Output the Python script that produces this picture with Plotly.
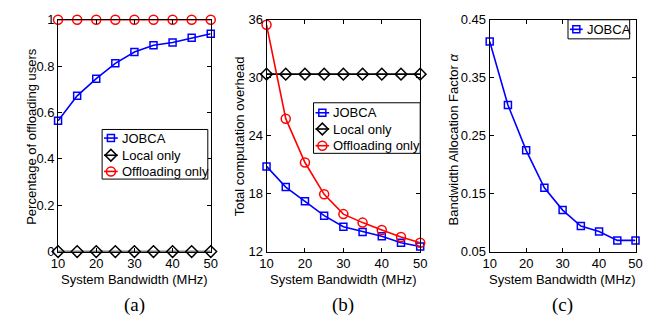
import plotly.graph_objects as go

bandwidth = [10, 15, 20, 25, 30, 35, 40, 45, 50]

# (a) Percentage of offloading users
pct_jobca = [0.564, 0.672, 0.746, 0.812, 0.861, 0.89, 0.902, 0.922, 0.94]
pct_local = [0, 0, 0, 0, 0, 0, 0, 0, 0]
pct_offload = [1, 1, 1, 1, 1, 1, 1, 1, 1]

# (b) Total computation overhead
ovh_jobca = [20.82, 18.68, 17.2, 15.72, 14.57, 14.04, 13.58, 12.92, 12.52]
ovh_local = [30.37] * 9
ovh_offload = [35.48, 25.76, 21.22, 17.93, 15.88, 15.0, 14.24, 13.51, 12.92]

# (c) Bandwidth allocation factor
alpha_jobca = [0.4125, 0.303, 0.2247, 0.160, 0.1216, 0.094, 0.0847, 0.0693, 0.0693]

series_names = ["JOBCA", "Local only", "Offloading only"]
x_title = "System Bandwidth (MHz)"
y_titles = ["Percentage of offloading users", "Total computation overhead",
            "Bandwidth Allocation Factor <i>α</i>"]
panel_labels = ["(a)", "(b)", "(c)"]

W, H = 659, 326
OFF = 8  # the page's default body margin shifts the figure by this much
FONT = "Liberation Sans, Arial, sans-serif"
SERIF = "Liberation Serif, Times New Roman, serif"
BLUE, BLACK, RED = "#0000ff", "#000000", "#ff0000"
STYLES = [(BLUE, "square-open", 7), (BLACK, "diamond-open", 9), (RED, "circle-open", 9)]

# panel extents in screen pixels (left, right)
PANELS = [(52, 208), (265, 422), (493, 642)]
TOP, BOTTOM = 13, 256


def px_x(p):
    return (p - OFF) / W


def px_y(p):
    return 1 - (p - OFF) / H


fig = go.Figure()


def add(x, y, style, axis):
    color, symbol, msize = style
    fig.add_trace(go.Scatter(
        x=x, y=y, mode="lines+markers", showlegend=False,
        line=dict(color=color, width=1.6),
        marker=dict(symbol=symbol, size=msize, color=color,
                    line=dict(color=color, width=1.5)),
        xaxis="x" + axis, yaxis="y" + axis, cliponaxis=False))


add(bandwidth, pct_jobca, STYLES[0], "")
add(bandwidth, pct_local, STYLES[1], "")
add(bandwidth, pct_offload, STYLES[2], "")

add(bandwidth, ovh_jobca, STYLES[0], "2")
add(bandwidth, ovh_local, STYLES[1], "2")
add(bandwidth, ovh_offload, STYLES[2], "2")

add(bandwidth, alpha_jobca, STYLES[0], "3")

# ---- hand-built legends (MATLAB style, short sample lines) on a screen-pixel overlay axis
legends = [
    dict(box=(97, 205, 128, 180), rows=[137, 155, 172], lx=(99, 113), tx=115, n=3),
    dict(box=(313, 422, 100, 153), rows=[110.5, 127.5, 145], lx=(315, 329), tx=331, n=3),
    dict(box=(573, 636, 13, 33), rows=[23], lx=(575, 588), tx=590, n=1),
]
shapes = []
for lg in legends:
    x0, x1, y0, y1 = lg["box"]
    shapes.append(dict(type="rect", xref="x4", yref="y4", x0=x0, x1=x1, y0=y0, y1=y1,
                       line=dict(color="black", width=1), fillcolor="white", layer="below"))
    for i in range(lg["n"]):
        color, symbol, msize = STYLES[i]
        ry = lg["rows"][i]
        shapes.append(dict(type="line", xref="x4", yref="y4", x0=lg["lx"][0], x1=lg["lx"][1],
                           y0=ry, y1=ry, line=dict(color=color, width=1.6), layer="below"))
        fig.add_trace(go.Scatter(
            x=[(lg["lx"][0] + lg["lx"][1]) / 2], y=[ry], mode="markers", showlegend=False,
            marker=dict(symbol=symbol, size=msize, color=color, line=dict(color=color, width=1.5)),
            xaxis="x4", yaxis="y4", hoverinfo="skip", cliponaxis=False))
        fig.add_annotation(text=series_names[i], x=lg["tx"], y=ry, xref="x4", yref="y4",
                           showarrow=False, xanchor="left", yanchor="middle",
                           font=dict(family=FONT, size=13, color="black"))

ydom = [px_y(BOTTOM), px_y(TOP)]
axis_common = dict(showline=True, linecolor="black", linewidth=1, mirror="ticks",
                   ticks="inside", ticklen=4, tickcolor="black", showgrid=False,
                   zeroline=False, ticklabeloverflow="allow",
                   tickfont=dict(family=FONT, size=13, color="black"))
xcommon = dict(axis_common, range=[10, 50], tickvals=[10, 20, 30, 40, 50])

fig.update_layout(
    width=W, height=H, margin=dict(l=0, r=0, t=0, b=0),
    paper_bgcolor="white", plot_bgcolor="rgba(0,0,0,0)",
    font=dict(family=FONT, size=13, color="black"),
    showlegend=False,
    xaxis=dict(xcommon, domain=[px_x(PANELS[0][0]), px_x(PANELS[0][1])], anchor="y"),
    yaxis=dict(axis_common, domain=ydom, range=[0, 1], anchor="x",
               tickvals=[0, 0.2, 0.4, 0.6, 0.8, 1],
               ticktext=["0", "0.2", "0.4", "0.6", "0.8", "1"]),
    xaxis2=dict(xcommon, domain=[px_x(PANELS[1][0]), px_x(PANELS[1][1])], anchor="y2"),
    yaxis2=dict(axis_common, domain=ydom, range=[12, 36], anchor="x2",
                tickvals=[12, 18, 24, 30, 36]),
    xaxis3=dict(xcommon, domain=[px_x(PANELS[2][0]), px_x(PANELS[2][1])], anchor="y3"),
    yaxis3=dict(axis_common, domain=ydom, range=[0.05, 0.45], anchor="x3",
                tickvals=[0.05, 0.15, 0.25, 0.35, 0.45]),
    xaxis4=dict(domain=[0, 1], range=[OFF, W + OFF], visible=False, fixedrange=True, anchor="y4"),
    yaxis4=dict(domain=[0, 1], range=[H + OFF, OFF], visible=False, fixedrange=True, anchor="x4"),
    shapes=shapes,
)

for t, xc, yc in zip(y_titles, [24, 237, 456], [135, 135, 138]):
    fig.add_annotation(text=t, x=px_x(xc), y=px_y(yc), xref="paper", yref="paper",
                       showarrow=False, textangle=-90, xanchor="center", yanchor="middle",
                       font=dict(family=FONT, size=13, color="black"))

for (l, r) in PANELS:
    fig.add_annotation(text=x_title, x=px_x((l + r) / 2), y=px_y(285), xref="paper", yref="paper",
                       showarrow=False, xanchor="center", yanchor="middle",
                       font=dict(family=FONT, size=13, color="black"))

for label, (l, r) in zip(panel_labels, PANELS):
    fig.add_annotation(text=label, x=px_x((l + r) / 2), y=px_y(312), xref="paper", yref="paper",
                       showarrow=False, xanchor="center", yanchor="middle",
                       font=dict(family=SERIF, size=19, color="black"))

fig.write_html("out.html")
